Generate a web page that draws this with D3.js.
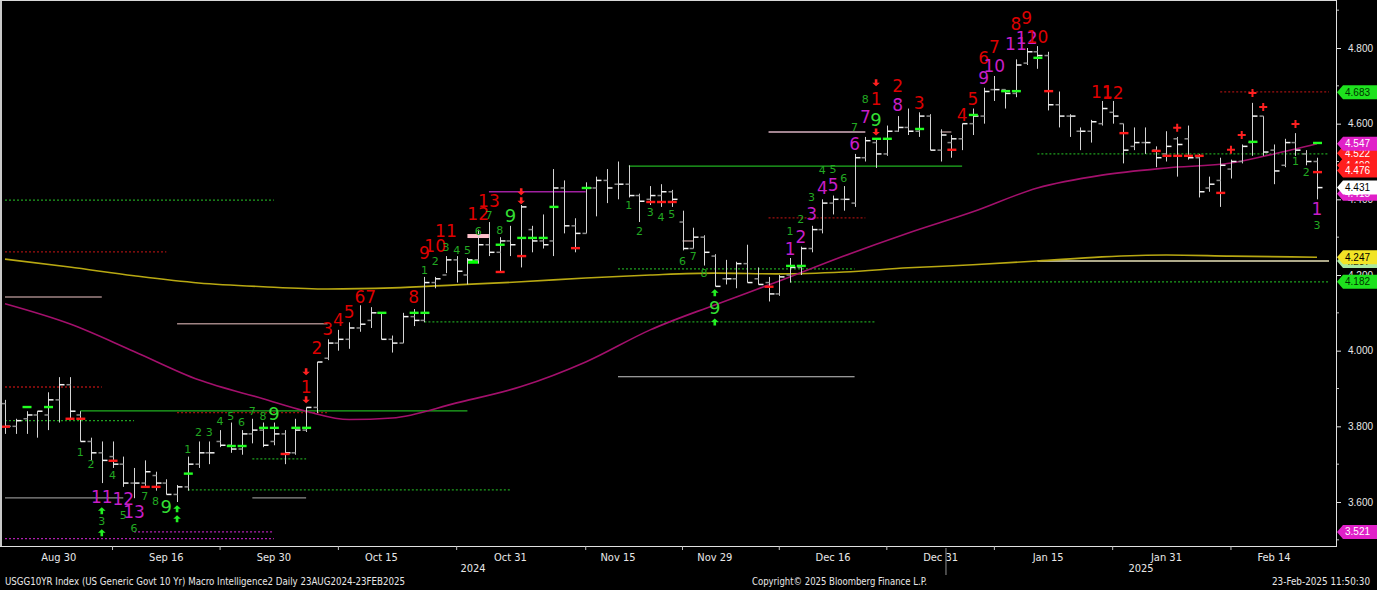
<!DOCTYPE html>
<html>
<head>
<meta charset="utf-8">
<script src="https://cdn.jsdelivr.net/npm/d3@7"></script>
<style>
  html, body { margin: 0; padding: 0; background: #000; }
  svg { display: block; }
</style>
</head>
<body>
<div id="chart"></div>
<script>
// trading days shown on the chart
const dates = [
  "2024-08-23","2024-08-26","2024-08-27","2024-08-28","2024-08-29","2024-08-30",
  "2024-09-03","2024-09-04","2024-09-05","2024-09-06","2024-09-09","2024-09-10","2024-09-11","2024-09-12","2024-09-13",
  "2024-09-16","2024-09-17","2024-09-18","2024-09-19","2024-09-20","2024-09-23","2024-09-24","2024-09-25","2024-09-26","2024-09-27","2024-09-30",
  "2024-10-01","2024-10-02","2024-10-03","2024-10-04","2024-10-07","2024-10-08","2024-10-09","2024-10-10","2024-10-11",
  "2024-10-15","2024-10-16","2024-10-17","2024-10-18","2024-10-21","2024-10-22","2024-10-23","2024-10-24","2024-10-25",
  "2024-10-28","2024-10-29","2024-10-30","2024-10-31",
  "2024-11-01","2024-11-04","2024-11-05","2024-11-06","2024-11-07","2024-11-08","2024-11-12","2024-11-13","2024-11-14","2024-11-15",
  "2024-11-18","2024-11-19","2024-11-20","2024-11-21","2024-11-22","2024-11-25","2024-11-26","2024-11-27","2024-11-29",
  "2024-12-02","2024-12-03","2024-12-04","2024-12-05","2024-12-06","2024-12-09","2024-12-10","2024-12-11","2024-12-12","2024-12-13",
  "2024-12-16","2024-12-17","2024-12-18","2024-12-19","2024-12-20","2024-12-23","2024-12-24","2024-12-26","2024-12-27","2024-12-30","2024-12-31",
  "2025-01-02","2025-01-03","2025-01-06","2025-01-07","2025-01-08","2025-01-09","2025-01-10","2025-01-13","2025-01-14","2025-01-15",
  "2025-01-16","2025-01-17","2025-01-21","2025-01-22","2025-01-23","2025-01-24","2025-01-27","2025-01-28","2025-01-29","2025-01-30","2025-01-31",
  "2025-02-03","2025-02-04","2025-02-05","2025-02-06","2025-02-07","2025-02-10","2025-02-11","2025-02-12","2025-02-13","2025-02-14",
  "2025-02-18","2025-02-19","2025-02-20","2025-02-21"
];

// daily OHLC, USGG10YR yield (%)
const open = [
  3.86,3.80,3.82,3.83,3.83,3.87, 3.91,3.83,3.76,3.73,3.72,3.70,3.65,3.65,3.67,
  3.65,3.62,3.64,3.70,3.73,3.76,3.75,3.74,3.78,3.79,3.76,
  3.78,3.73,3.79,3.85,3.98,4.02,4.03,4.06,4.08, 4.10,4.03,4.02,4.09,4.08,4.18,4.20,4.24,4.20,
  4.24,4.28,4.26,4.29,
  4.25,4.32,4.29,4.29,4.43,4.33,4.31,4.43,4.45,4.44, 4.44,4.41,4.40,4.41,4.42,4.34,4.27,4.30,4.25,
  4.19,4.19,4.23,4.19,4.18,4.15,4.20,4.22,4.27,4.32, 4.39,4.40,4.39,4.51,4.55,4.52,4.58,4.59,4.58,4.62,4.53,
  4.55,4.56,4.60,4.62,4.69,4.69,4.68,4.76,4.79,4.78, 4.65,4.62,4.58,4.58,4.60,4.63,4.60,4.54,4.55,4.53,4.52,
  4.56,4.56,4.51,4.43,4.45,4.48,4.50,4.55,4.62,4.53, 4.49,4.55,4.52,4.50
];
const high = [
  3.87,3.82,3.84,3.84,3.89,3.93, 3.93,3.84,3.77,3.76,3.76,3.72,3.69,3.71,3.68,
  3.66,3.645,3.72,3.76,3.76,3.79,3.81,3.79,3.82,3.81,3.81,
  3.79,3.82,3.85,3.97,4.03,4.055,4.075,4.12,4.115, 4.10,4.04,4.10,4.11,4.195,4.195,4.25,4.25,4.245,
  4.32,4.34,4.30,4.33,
  4.385,4.33,4.36,4.48,4.45,4.35,4.445,4.46,4.48,4.50, 4.49,4.415,4.435,4.44,4.425,4.37,4.325,4.305,4.255,
  4.24,4.235,4.28,4.22,4.195,4.20,4.245,4.275,4.33,4.40, 4.41,4.435,4.52,4.565,4.557,4.595,4.62,4.64,4.63,4.625,4.585,
  4.57,4.60,4.64,4.695,4.726,4.69,4.77,4.80,4.805,4.79, 4.685,4.625,4.59,4.61,4.66,4.66,4.60,4.59,4.59,4.54,4.58,
  4.565,4.595,4.52,4.46,4.51,4.505,4.545,4.655,4.62,4.545, 4.56,4.575,4.53,4.51
];
const low = [
  3.78,3.78,3.78,3.77,3.79,3.81, 3.82,3.76,3.71,3.65,3.69,3.64,3.61,3.64,3.63,
  3.62,3.60,3.63,3.69,3.70,3.745,3.73,3.725,3.755,3.745,3.75,
  3.70,3.725,3.785,3.835,3.975,4.00,4.005,4.05,4.06, 4.03,3.995,4.02,4.065,4.075,4.165,4.205,4.18,4.175,
  4.23,4.25,4.21,4.25,
  4.22,4.26,4.27,4.25,4.31,4.26,4.31,4.355,4.39,4.40, 4.405,4.34,4.385,4.38,4.38,4.265,4.27,4.225,4.17,
  4.175,4.165,4.18,4.175,4.13,4.145,4.18,4.20,4.26,4.31, 4.36,4.37,4.38,4.50,4.483,4.515,4.578,4.57,4.565,4.53,4.50,
  4.51,4.53,4.57,4.60,4.66,4.64,4.67,4.755,4.745,4.635, 4.59,4.565,4.53,4.55,4.595,4.60,4.495,4.53,4.52,4.485,4.50,
  4.46,4.505,4.405,4.42,4.38,4.455,4.495,4.515,4.515,4.44, 4.485,4.515,4.49,4.40
];
const close = [
  3.80,3.815,3.83,3.84,3.87,3.91, 3.84,3.76,3.73,3.71,3.70,3.65,3.65,3.68,3.65,
  3.62,3.64,3.70,3.73,3.73,3.75,3.74,3.78,3.79,3.75,3.78,
  3.73,3.79,3.85,3.97,4.02,4.03,4.06,4.07,4.10, 4.03,4.02,4.09,4.08,4.18,4.19,4.24,4.21,4.24,
  4.28,4.26,4.29,4.28,
  4.38,4.29,4.28,4.43,4.33,4.31,4.43,4.45,4.43,4.44, 4.41,4.395,4.41,4.42,4.40,4.27,4.30,4.26,4.17,
  4.19,4.23,4.18,4.175,4.15,4.195,4.22,4.27,4.32,4.39, 4.40,4.40,4.51,4.555,4.52,4.58,4.59,4.58,4.62,4.53,4.57,
  4.56,4.60,4.62,4.685,4.69,4.68,4.755,4.79,4.78,4.65, 4.62,4.62,4.58,4.605,4.64,4.62,4.53,4.55,4.55,4.51,4.54,
  4.545,4.51,4.42,4.44,4.49,4.50,4.54,4.62,4.525,4.475, 4.55,4.53,4.50,4.431
];

// moving averages, [bar index, value]
const maShort = [
  [0,4.124],[6,4.071],[12,3.998],[18,3.923],[24,3.873],[28,3.840],[32,3.818],[36,3.822],
  [42,3.862],[48,3.905],[54,3.970],[60,4.055],[66,4.121],[72,4.184],[78,4.250],[84,4.311],
  [90,4.367],[96,4.430],[102,4.464],[108,4.483],[114,4.496],[118,4.520],[122,4.547]
];
const maLong = [
  [0,4.242],[6,4.221],[12,4.198],[18,4.179],[24,4.169],[30,4.163],[36,4.166],[42,4.174],
  [48,4.182],[54,4.192],[60,4.200],[66,4.205],[72,4.203],[78,4.208],[84,4.219],[90,4.227],
  [96,4.237],[102,4.248],[108,4.253],[114,4.250],[122,4.247]
];

// TD levels: [from index, to index, value, kind]
const levels = [
  [0,25,4.398,"gDot"],[0,15,4.261,"rDot"],[0,9,4.142,"pink"],[16,30,4.071,"pink"],
  [0,9,3.904,"rDot"],[0,12,3.815,"gDot"],[7,43,3.841,"gLine"],[16,30,3.836,"rDot"],
  [0,11,3.611,"gray"],[23,28,3.611,"gray"],[17,47,3.632,"gDot"],[23,28,3.714,"gDot"],
  [12,25,3.521,"mDot"],[0,25,3.503,"mDot"],[39,81,4.076,"gDot"],[45,54,4.420,"purple"],
  [58,89,4.488,"gLine"],[57,79,4.216,"gDot"],[73,122,4.182,"gDot"],[57,79,3.931,"light"],
  [71,80,4.351,"rDot"],[71,80,4.578,"pinkLight"],[96,122,4.520,"gDot"],[113,122,4.684,"rDot"],
  [96,122,4.237,"cream"],[63,64,4.290,"pink"],[87,88,4.578,"pink"],
  [43,45,4.303,"pinkBar"],[43,44,4.235,"greenBar"]
];

// TD counts: [bar index, value, label, kind]
const counts = [
  [7,3.730,"1","g"],[8,3.698,"2","g"],[10,3.669,"4","g"],[9,3.614,"11","m"],[11,3.608,"12","m"],
  [12,3.574,"13","m"],[11,3.564,"5","g"],[12,3.529,"6","g"],[13,3.614,"7","g"],[14,3.601,"8","g"],
  [15,3.587,"9","gL"],[9,3.548,"3","g"],
  [17,3.738,"1","g"],[18,3.785,"2","g"],[19,3.783,"3","g"],[20,3.812,"4","g"],[21,3.825,"5","g"],
  [22,3.809,"6","g"],[23,3.838,"7","g"],[24,3.825,"8","g"],[25,3.833,"9","gL"],
  [28,3.904,"1","r"],[29,4.007,"2","r"],[30,4.058,"3","r"],[31,4.081,"4","r"],[32,4.102,"5","r"],
  [33,4.142,"6","r"],[34,4.142,"7","r"],[38,4.142,"8","r"],[39,4.258,"9","r"],[40,4.277,"10","r"],
  [41,4.317,"11","r"],[44,4.361,"12","r"],[45,4.396,"13","r"],
  [39,4.213,"1","g"],[40,4.235,"2","g"],[41,4.274,"3","g"],[42,4.266,"4","g"],[43,4.264,"5","g"],
  [44,4.314,"6","g"],[45,4.356,"7","g"],[46,4.317,"8","g"],[47,4.356,"9","gL"],
  [58,4.383,"1","g"],[59,4.314,"2","g"],[60,4.364,"3","g"],[61,4.351,"4","g"],[62,4.359,"5","g"],
  [63,4.235,"6","g"],[64,4.248,"7","g"],[65,4.203,"8","g"],[66,4.113,"9","gL"],
  [73,4.314,"1","g"],[74,4.346,"2","g"],[75,4.406,"3","g"],[76,4.475,"4","g"],[77,4.480,"5","g"],
  [78,4.454,"6","g"],[73,4.269,"1","m"],[74,4.301,"2","m"],[75,4.361,"3","m"],[76,4.430,"4","m"],
  [77,4.438,"5","m"],[79,4.546,"6","m"],[79,4.591,"7","g"],[80,4.618,"7","m"],[80,4.663,"8","g"],
  [81,4.612,"9","gL"],[81,4.665,"1","r"],[83,4.700,"2","r"],[83,4.649,"8","m"],[85,4.655,"3","r"],
  [89,4.623,"4","r"],[90,4.665,"5","r"],[91,4.774,"6","r"],[92,4.803,"7","r"],[91,4.721,"9","m"],
  [92,4.752,"10","m"],[94,4.863,"8","r"],[95,4.879,"9","r"],[94,4.811,"11","m"],[95,4.826,"12","m"],
  [96,4.829,"10","r"],[102,4.684,"11","r"],[103,4.681,"12","r"],
  [120,4.501,"1","g"],[121,4.470,"2","g"],[122,4.375,"1","m"],[122,4.330,"3","g"]
];
const arrowsDown = [[28,3.944],[28,3.870],[48,4.420],[48,4.396],[81,4.708],[81,4.578]];
const arrowsUp = [[9,3.577],[9,3.519],[16,3.582],[16,3.556],[66,4.153],[66,4.076]];
const plusSigns = [[109,4.589],[114,4.531],[115,4.570],[116,4.681],[117,4.644],[120,4.599]];
const greenDashes = [
  [2,3.851],[4,3.851],[17,3.675],[21,3.748],[22,3.748],[24,3.796],[25,3.796],[27,3.796],[28,3.796],
  [35,4.100],[38,4.100],[39,4.100],[46,4.280],[48,4.298],[49,4.298],[50,4.298],[51,4.380],[54,4.430],
  [73,4.224],[74,4.224],[81,4.560],[82,4.560],[85,4.586],[90,4.623],[93,4.686],[94,4.686],[96,4.774],
  [116,4.552],[122,4.549]
];
const redDashes = [
  [0,3.799],[6,3.820],[7,3.820],[10,3.709],[13,3.640],[14,3.640],[26,3.727],[46,4.208],[48,4.250],
  [53,4.271],[60,4.393],[61,4.393],[62,4.393],[71,4.169],[88,4.531],[97,4.686],[104,4.575],
  [107,4.528],[108,4.515],[109,4.515],[110,4.515],[111,4.515],[113,4.417],[122,4.472]
];

// axis
const yTicks = [3.6, 3.8, 4.0, 4.2, 4.4, 4.6, 4.8];
const yMinorTicks = [3.5, 3.7, 3.9, 4.1, 4.3, 4.5, 4.7, 4.9];
const xLabelDates = ["2024-08-30","2024-09-16","2024-09-30","2024-10-15","2024-10-31","2024-11-15",
  "2024-11-29","2024-12-16","2024-12-31","2025-01-15","2025-01-31","2025-02-14"];
const xMinorDates = ["2024-09-09","2024-09-23","2024-10-08","2024-10-24","2024-11-12","2024-11-25",
  "2024-12-09","2024-12-23","2025-01-08","2025-01-24","2025-02-10"];
const years = ["2024", "2025"];

// right-hand value tags: [value, label, kind] (drawn in this order)
const tags = [
  [4.237,"4.237","paleGreen"],[4.247,"4.247","yellow"],[4.182,"4.182","green"],
  [4.49,"4.490","red"],[4.476,"4.476","red"],[4.415,"4.415","magenta"],[4.431,"4.431","white"],
  [4.522,"4.522","red"],[4.547,"4.547","magenta"],[4.683,"4.683","green"],[3.521,"3.521","magenta"]
];

const footerLeft = "USGG10YR Index (US Generic Govt 10 Yr) Macro Intelligence2  Daily 23AUG2024-23FEB2025";
const footerMid = "Copyright\u00A9 2025 Bloomberg Finance L.P.";
const footerRight = "23-Feb-2025 11:50:30";

// ---------------------------------------------------------------
const width = 1377, height = 590;
const plotRight = 1336, plotBottom = 546;

const svg = d3.select("#chart").append("svg")
  .attr("width", width).attr("height", height)
  .style("background", "#000");

const x = d3.scalePoint().domain(dates).range([5, 1317]);
const xi = i => x(dates[i]);
const y = d3.scaleLinear().domain([3.6, 4.8]).range([502, 48]);

svg.append("defs").append("clipPath").attr("id", "plot")
  .append("rect").attr("x", 0).attr("y", 0).attr("width", plotRight).attr("height", plotBottom);

const g = svg.append("g").attr("clip-path", "url(#plot)");

// frame bits
svg.append("rect").attr("x", 0).attr("y", 0).attr("width", 2).attr("height", plotBottom).attr("fill", "#c8c8c8");
svg.append("line").attr("x1", 0).attr("x2", plotRight).attr("y1", 0.5).attr("y2", 0.5).attr("stroke", "#d8d8d8");

// level lines
const levelStyle = {
  gDot:     { stroke: "#1fa01f", dash: "2,2", w: 1.3 },
  rDot:     { stroke: "#a01010", dash: "2,2", w: 1.3 },
  mDot:     { stroke: "#b020b0", dash: "2,2", w: 1.3 },
  gLine:    { stroke: "#20b020", dash: null, w: 1.3 },
  pink:     { stroke: "#a08484", dash: null, w: 1.5 },
  pinkLight:{ stroke: "#d8b0c0", dash: null, w: 1.3 },
  gray:     { stroke: "#8c8c8c", dash: null, w: 1.3 },
  light:    { stroke: "#c8c8c8", dash: null, w: 1.2 },
  purple:   { stroke: "#a020a0", dash: null, w: 1.5 },
  cream:    { stroke: "#e8e2b8", dash: null, w: 1.3 },
  pinkBar:  { stroke: "#ffc0cb", dash: null, w: 4 },
  greenBar: { stroke: "#00ff00", dash: null, w: 4 }
};
levels.forEach(([a, b, v, kind]) => {
  const s = levelStyle[kind];
  const x2 = b === dates.length - 1 ? xi(b) + 12 : xi(b);
  g.append("line")
    .attr("x1", xi(a)).attr("x2", x2)
    .attr("y1", y(v)).attr("y2", y(v))
    .attr("stroke", s.stroke).attr("stroke-width", s.w)
    .attr("stroke-dasharray", s.dash);
});

// moving averages
const maLine = d3.line().x(d => xi(d[0])).y(d => y(d[1])).curve(d3.curveMonotoneX);
g.append("path").datum(maLong).attr("d", maLine)
  .attr("fill", "none").attr("stroke", "#b8a812").attr("stroke-width", 1.6);
g.append("path").datum(maShort).attr("d", maLine)
  .attr("fill", "none").attr("stroke", "#a3106c").attr("stroke-width", 1.6);

// OHLC bars
const bars = g.append("g");
dates.forEach((d, i) => {
  const cx = Math.round(x(d)) + 0.5;
  bars.append("line").attr("x1", cx).attr("x2", cx)
    .attr("y1", y(high[i])).attr("y2", y(low[i]))
    .attr("stroke", "#d4d4d4").attr("stroke-width", 1);
  bars.append("line").attr("x1", cx - 4).attr("x2", cx)
    .attr("y1", y(open[i])).attr("y2", y(open[i]))
    .attr("stroke", "#8a8a8a").attr("stroke-width", 1.5);
  bars.append("line").attr("x1", cx).attr("x2", cx + 5)
    .attr("y1", y(close[i])).attr("y2", y(close[i]))
    .attr("stroke", "#f4f4f4").attr("stroke-width", 1.5);
});

// close markers
g.selectAll("rect.gdash").data(greenDashes).enter().append("rect")
  .attr("x", d => xi(d[0]) - 4).attr("y", d => y(d[1]) - 1.2)
  .attr("width", 9).attr("height", 2.4).attr("fill", "#22ff22");
g.selectAll("rect.rdash").data(redDashes).enter().append("rect")
  .attr("x", d => xi(d[0]) - 4).attr("y", d => y(d[1]) - 1.2)
  .attr("width", 9).attr("height", 2.4).attr("fill", "#ff1a1a");

// plus signs
plusSigns.forEach(([i, v]) => {
  const cx = xi(i), cy = y(v);
  g.append("path").attr("d", `M${cx - 4},${cy}H${cx + 4}M${cx},${cy - 4}V${cy + 4}`)
    .attr("stroke", "#ff2020").attr("stroke-width", 2);
});

// arrows
function arrowPath(cx, cy, dir) {
  // dir = 1 pointing down, -1 pointing up
  const h = 3.5 * dir;
  return `M${cx - 1.3},${cy - h}L${cx + 1.3},${cy - h}L${cx + 1.3},${cy}L${cx + 3.8},${cy}` +
         `L${cx},${cy + h}L${cx - 3.8},${cy}L${cx - 1.3},${cy}Z`;
}
arrowsDown.forEach(([i, v]) => g.append("path").attr("d", arrowPath(xi(i), y(v), 1)).attr("fill", "#ff2020"));
arrowsUp.forEach(([i, v]) => g.append("path").attr("d", arrowPath(xi(i), y(v), -1)).attr("fill", "#22ee22"));

// TD counts
const countStyle = {
  g:  { fill: "#22a822", size: 11 },
  gL: { fill: "#33dd33", size: 18 },
  r:  { fill: "#dd0000", size: 17 },
  m:  { fill: "#c81ec8", size: 17 }
};
counts.forEach(([i, v, label, kind]) => {
  const s = countStyle[kind];
  g.append("text")
    .attr("x", xi(i)).attr("y", y(v))
    .attr("text-anchor", "middle").attr("dominant-baseline", "central")
    .attr("font-family", "DejaVu Sans, sans-serif")
    .attr("font-size", s.size).attr("fill", s.fill)
    .text(label);
});

// right axis
const yAxis = svg.append("g").attr("transform", `translate(${plotRight},0)`)
  .call(d3.axisRight(y).tickValues(yTicks).tickFormat(d3.format(".3f")).tickSize(5).tickPadding(7));
yAxis.select(".domain").remove();
yAxis.selectAll(".tick line").attr("stroke", "#e0e0e0");
yAxis.selectAll(".tick text").attr("fill", "#e8e8e8")
  .attr("font-family", "Liberation Sans, Arial, sans-serif").attr("font-size", 10);
svg.selectAll("line.ymin").data(yMinorTicks).enter().append("line")
  .attr("x1", plotRight).attr("x2", plotRight + 3)
  .attr("y1", d => y(d)).attr("y2", d => y(d)).attr("stroke", "#c0c0c0");
svg.append("line").attr("x1", plotRight + 0.5).attr("x2", plotRight + 0.5)
  .attr("y1", 0).attr("y2", plotBottom).attr("stroke", "#e0e0e0");

// bottom axis
svg.append("line").attr("x1", 0).attr("x2", plotRight + 1)
  .attr("y1", plotBottom + 0.5).attr("y2", plotBottom + 0.5).attr("stroke", "#e0e0e0");
const fmtDay = d3.timeFormat("%b %-d");
const parse = d3.timeParse("%Y-%m-%d");
const narrow = "Liberation Sans Narrow, DejaVu Sans Condensed, Arial Narrow, sans-serif";
svg.selectAll("text.xl").data(xLabelDates).enter().append("text")
  .attr("x", d => x(d)).attr("y", 561)
  .attr("text-anchor", "middle").attr("fill", "#e8e8e8")
  .attr("font-family", narrow).attr("font-size", 11)
  .text(d => fmtDay(parse(d)));
svg.selectAll("line.xm").data(xMinorDates).enter().append("line")
  .attr("x1", d => x(d)).attr("x2", d => x(d))
  .attr("y1", plotBottom).attr("y2", plotBottom + 4).attr("stroke", "#c0c0c0");

// year labels and separator
const sepX = (x("2024-12-31") + x("2025-01-02")) / 2;
svg.append("line").attr("x1", sepX).attr("x2", sepX).attr("y1", plotBottom + 2).attr("y2", 575)
  .attr("stroke", "#909090");
[[years[0], (0 + sepX) / 2], [years[1], (sepX + plotRight) / 2]].forEach(([t, cx]) => {
  svg.append("text").attr("x", cx).attr("y", 572).attr("text-anchor", "middle")
    .attr("fill", "#e8e8e8").attr("font-family", narrow)
    .attr("font-size", 11).text(t);
});

// footer
svg.append("text").attr("x", 5).attr("y", 585).attr("fill", "#e8e8e8")
  .attr("font-family", narrow).attr("font-size", 10.5)
  .attr("textLength", 400).attr("lengthAdjust", "spacingAndGlyphs").text(footerLeft);
svg.append("text").attr("x", 752).attr("y", 585).attr("fill", "#e8e8e8")
  .attr("font-family", narrow).attr("font-size", 10.5)
  .attr("textLength", 175).attr("lengthAdjust", "spacingAndGlyphs").text(footerMid);
svg.append("text").attr("x", 1272).attr("y", 585).attr("fill", "#e8e8e8")
  .attr("font-family", narrow).attr("font-size", 10.5)
  .attr("textLength", 98).attr("lengthAdjust", "spacingAndGlyphs").text(footerRight);

// value tags
const tagStyle = {
  paleGreen: { fill: "#a8e8a0", text: "#000" },
  yellow:    { fill: "#f2e426", text: "#000" },
  green:     { fill: "#1ee21e", text: "#003300" },
  red:       { fill: "#ff1e1e", text: "#fff" },
  magenta:   { fill: "#e020c8", text: "#fff" },
  white:     { fill: "#ffffff", text: "#000" }
};
tags.forEach(([v, label, kind]) => {
  const s = tagStyle[kind];
  const cy = y(v), x0 = plotRight + 1, x1 = width;
  svg.append("path")
    .attr("d", `M${x0},${cy}L${x0 + 6},${cy - 7}L${x1},${cy - 7}L${x1},${cy + 7}L${x0 + 6},${cy + 7}Z`)
    .attr("fill", s.fill);
  svg.append("text").attr("x", x0 + 8).attr("y", cy).attr("dominant-baseline", "central")
    .attr("fill", s.text).attr("font-family", "Liberation Sans, Arial, sans-serif")
    .attr("font-size", 10).text(label);
});
</script>
</body>
</html>
